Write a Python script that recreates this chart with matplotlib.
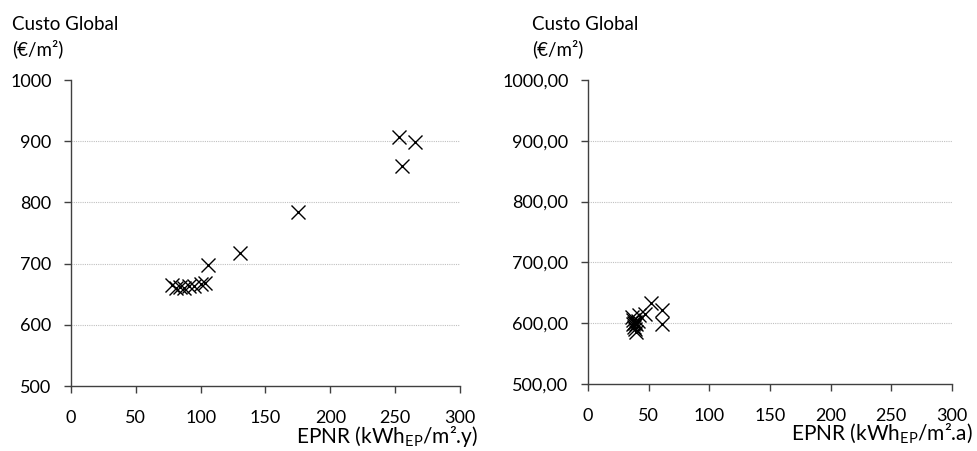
import matplotlib.pyplot as plt
from matplotlib.ticker import FuncFormatter

plt.rcParams['font.family'] = ['Lato', 'DejaVu Sans']

# EPNR (kWh/m2.y) vs global cost (EUR/m2)
epnr_a = [78, 81, 84, 87, 91, 95, 100, 103, 106, 130, 175, 253, 255, 265]
custo_a = [665, 660, 662, 660, 663, 663, 667, 668, 697, 718, 785, 907, 860, 898]

epnr_b = [36, 37, 37, 38, 38, 39, 39, 40, 40, 41, 42, 47, 52, 61, 61]
custo_b = [610, 598, 605, 600, 594, 590, 602, 585, 598, 603, 613, 615, 634, 622, 598]

yticks = [500, 600, 700, 800, 900, 1000]
xticks = [0, 50, 100, 150, 200, 250, 300]

fig = plt.figure(figsize=(9.77, 4.51), dpi=100)
ax1 = fig.add_axes([0.0727, 0.1441, 0.3981, 0.6785])
ax2 = fig.add_axes([0.6018, 0.1486, 0.3726, 0.6740])


def style(ax, fmt, xlabel, xend):
    ax.set_xlim(0, 300)
    ax.set_ylim(500, 1000)
    ax.set_xticks(xticks)
    ax.set_yticks(yticks)
    ax.yaxis.set_major_formatter(FuncFormatter(fmt))
    for s in ['top', 'right']:
        ax.spines[s].set_visible(False)
    for s in ['left', 'bottom']:
        ax.spines[s].set_color('#404040')
        ax.spines[s].set_linewidth(1.0)
    ax.tick_params(direction='out', length=5, width=1, color='#404040',
                   labelsize=13)
    ax.tick_params(axis='y', pad=9)
    ax.tick_params(axis='x', pad=12)
    ax.grid(axis='y', color='#c0c0c0', linestyle=(0, (1, 1)), linewidth=0.8)
    gl = ax.get_ygridlines()
    gl[0].set_visible(False)
    gl[-1].set_visible(False)
    ax.set_axisbelow(True)
    ax.text(xend, -0.205, xlabel, transform=ax.transAxes, ha='right',
            va='bottom', fontsize=15)


style(ax1, lambda v, p: f'{v:.0f}', r'EPNR (kWh$_{\mathregular{EP}}$/m².y)', 1.046)
style(ax2, lambda v, p: f'{v:.2f}'.replace('.', ','),
      r'EPNR (kWh$_{\mathregular{EP}}$/m².a)', 1.058)

ax1.plot(epnr_a, custo_a, 'x', color='black', markersize=10, markeredgewidth=1)
ax2.plot(epnr_b, custo_b, 'x', color='black', markersize=10, markeredgewidth=1)

fig.text(0.012, 0.945, 'Custo Global', fontsize=13.5, va='center')
fig.text(0.012, 0.893, '(€/m²)', fontsize=13.5, va='center')
fig.text(0.545, 0.945, 'Custo Global', fontsize=13.5, va='center')
fig.text(0.545, 0.893, '(€/m²)', fontsize=13.5, va='center')

fig.savefig('out.png', dpi=100)
